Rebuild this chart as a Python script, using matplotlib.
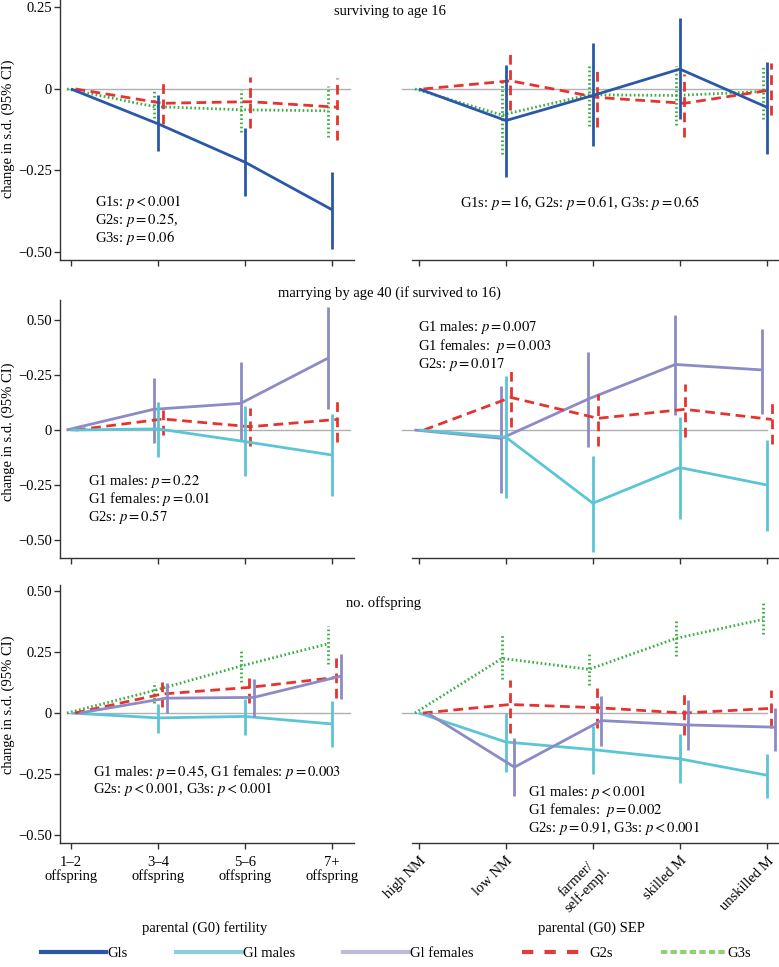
import numpy as np
import matplotlib
matplotlib.use('Agg')
import matplotlib.pyplot as plt
from matplotlib.lines import Line2D

plt.rcParams['font.family'] = ['Liberation Serif', 'DejaVu Serif']
plt.rcParams['mathtext.fontset'] = 'stix'

nan = np.nan

# x categories
fert_labels = ['1–2\noffspring', '3–4\noffspring', '5–6\noffspring', '7+\noffspring']
sep_labels = ['high NM', 'low NM', 'farmer/\nself-empl.', 'skilled M', 'unskilled M']

# surviving to age 16 -- by parental fertility
sf_g1s = [0, -0.107, -0.225, -0.371]
sf_g1s_lo = [nan, -0.19, -0.328, -0.492]
sf_g1s_hi = [nan, -0.02, -0.12, -0.254]
sf_g2s = [0, -0.044, -0.039, -0.056]
sf_g2s_lo = [nan, -0.108, -0.12, -0.156]
sf_g2s_hi = [nan, 0.017, 0.038, 0.033]
sf_g3s = [0, -0.054, -0.064, -0.067]
sf_g3s_lo = [nan, -0.09, -0.131, -0.146]
sf_g3s_hi = [nan, -0.001, -0.003, 0.009]

# surviving to age 16 -- by parental SEP
ss_g1s = [0, -0.097, -0.02, 0.061, -0.056]
ss_g1s_lo = [nan, -0.271, -0.175, -0.092, -0.199]
ss_g1s_hi = [nan, 0.074, 0.14, 0.217, 0.082]
ss_g2s = [0, 0.025, -0.026, -0.044, -0.003]
ss_g2s_lo = [nan, -0.064, -0.116, -0.146, -0.08]
ss_g2s_hi = [nan, 0.113, 0.06, 0.046, 0.081]
ss_g3s = [0, -0.08, -0.018, -0.02, -0.008]
ss_g3s_lo = [nan, -0.2, -0.113, -0.11, -0.092]
ss_g3s_hi = [nan, 0.03, 0.077, 0.07, 0.068]

# marrying by age 40 -- by parental fertility
mf_g1m = [0, 0.005, -0.053, -0.114]
mf_g1m_lo = [nan, -0.124, -0.209, -0.298]
mf_g1m_hi = [nan, 0.129, 0.109, 0.073]
mf_g1f = [0, 0.094, 0.121, 0.326]
mf_g1f_lo = [nan, -0.061, -0.048, 0.094]
mf_g1f_hi = [nan, 0.235, 0.308, 0.56]
mf_g2s = [0, 0.05, 0.015, 0.048]
mf_g2s_lo = [nan, -0.023, -0.073, -0.053]
mf_g2s_hi = [nan, 0.114, 0.098, 0.144]

# marrying by age 40 -- by parental SEP
ms_g1m = [0, -0.033, -0.333, -0.171, -0.25]
ms_g1m_lo = [nan, -0.308, -0.556, -0.406, -0.458]
ms_g1m_hi = [nan, 0.245, -0.118, 0.061, -0.045]
ms_g1f = [0, -0.038, 0.141, 0.298, 0.273]
ms_g1f_lo = [nan, -0.288, -0.079, 0.068, 0.073]
ms_g1f_hi = [nan, 0.2, 0.356, 0.525, 0.46]
ms_g2s = [0, 0.148, 0.053, 0.094, 0.048]
ms_g2s_lo = [nan, 0.012, -0.073, -0.03, -0.064]
ms_g2s_hi = [nan, 0.283, 0.164, 0.209, 0.141]

# no. offspring -- by parental fertility
of_g1m = [0, -0.02, -0.014, -0.045]
of_g1m_lo = [nan, -0.081, -0.091, -0.139]
of_g1m_hi = [nan, 0.038, 0.058, 0.051]
of_g1f = [0, 0.061, 0.064, 0.151]
of_g1f_lo = [nan, 0.0, -0.016, 0.057]
of_g1f_hi = [nan, 0.122, 0.138, 0.243]
of_g2s = [0, 0.078, 0.105, 0.146]
of_g2s_lo = [nan, 0.024, 0.043, 0.061]
of_g2s_hi = [nan, 0.128, 0.159, 0.227]
of_g3s = [0, 0.092, 0.193, 0.284]
of_g3s_lo = [nan, 0.041, 0.128, 0.203]
of_g3s_hi = [nan, 0.128, 0.257, 0.358]

# no. offspring -- by parental SEP
os_g1m = [0, -0.119, -0.15, -0.188, -0.255]
os_g1m_lo = [nan, -0.241, -0.251, -0.289, -0.349]
os_g1m_hi = [nan, 0.0, -0.055, -0.086, -0.168]
os_g1f = [0, -0.222, -0.031, -0.049, -0.058]
os_g1f_lo = [nan, -0.342, -0.136, -0.153, -0.154]
os_g1f_hi = [nan, -0.103, 0.07, 0.055, 0.019]
os_g2s = [0, 0.035, 0.022, 0.0, 0.019]
os_g2s_lo = [nan, -0.082, -0.062, -0.089, -0.062]
os_g2s_hi = [nan, 0.136, 0.103, 0.086, 0.096]
os_g3s = [0, 0.224, 0.179, 0.306, 0.384]
os_g3s_lo = [nan, 0.138, 0.115, 0.234, 0.324]
os_g3s_hi = [nan, 0.323, 0.242, 0.384, 0.45]

# colours / styles
c_g1s = '#2b58a6'
c_g1m = '#5cc5d5'
c_g1f = '#8c8bc6'
c_g2s = '#e5332f'
c_g3s = '#3aae43'
ls_solid = '-'
ls_dash = (0, (3.5, 2))
ls_dot = (0, (0.6, 0.9))

W, H = 779, 967
fig = plt.figure(figsize=(W / 100, H / 100), dpi=100)


def px(x, y):
    return x / W, 1 - y / H


def make_ax(x0, x1, y0, y1, ylim, xlim):
    ax = fig.add_axes([x0 / W, 1 - y1 / H, (x1 - x0) / W, (y1 - y0) / H])
    ax.set_xlim(*xlim)
    ax.set_ylim(*ylim)
    ax.spines['top'].set_visible(False)
    ax.spines['right'].set_visible(False)
    for s in ('left', 'bottom'):
        ax.spines[s].set_color('#333333')
        ax.spines[s].set_linewidth(1)
    ax.tick_params(direction='out', length=4, width=1, color='#333333',
                   labelsize=10.5, pad=2)
    ax.patch.set_alpha(0)
    return ax


def series(ax, vals, lo, hi, color, ls, off):
    xs = np.arange(len(vals)) + off / 87.0
    ax.plot(xs, vals, color=color, ls=ls, lw=2, solid_capstyle='butt', clip_on=False)
    for xi, l, h in zip(xs, lo, hi):
        if np.isnan(l):
            continue
        ax.plot([xi, xi], [l, h], color=color, ls=ls, lw=2,
                solid_capstyle='butt', clip_on=False)


left_xlim = (-0.126, 3.25)
right_xlim = (-0.08, 4.14)
rows = [(0, 260, (-0.525, 0.273)),
        (300, 558, (-0.582, 0.591)),
        (585, 843, (-0.533, 0.525))]

axes = []
for (y0, y1, yl) in rows:
    axl = make_ax(60, 354, y0, y1, yl, left_xlim)
    axr = make_ax(412, 779, y0, y1, yl, right_xlim)
    axr.spines['left'].set_visible(False)
    axr.tick_params(axis='y', left=False, labelleft=False)
    axl.plot([-0.05, 3.2], [0, 0], color='#b0b0b0', lw=1, zorder=0)
    axr.plot([-0.2, 4.0], [0, 0], color='#b0b0b0', lw=1, zorder=0, clip_on=False)
    axl.set_xticks(range(4))
    axr.set_xticks(range(5))
    axl.set_xticklabels([])
    axr.set_xticklabels([])
    axes.append((axl, axr))

# y ticks
axes[0][0].set_yticks([0.25, 0, -0.25, -0.5])
axes[0][0].set_yticklabels(['0.25', '0', '−0.25', '−0.50'])
axes[1][0].set_yticks([0.5, 0.25, 0, -0.25, -0.5])
axes[1][0].set_yticklabels(['0.50', '−0.25', '0', '−0.25', '−0.50'])
axes[2][0].set_yticks([0.5, 0.25, 0, -0.25, -0.5])
axes[2][0].set_yticklabels(['0.50', '0.25', '0', '−0.25', '−0.50'])

# row 1: surviving
a, b = axes[0]
series(a, sf_g3s, sf_g3s_lo, sf_g3s_hi, c_g3s, ls_dot, -4)
series(a, sf_g2s, sf_g2s_lo, sf_g2s_hi, c_g2s, ls_dash, 4.5)
series(a, sf_g1s, sf_g1s_lo, sf_g1s_hi, c_g1s, ls_solid, 0)
series(b, ss_g3s, ss_g3s_lo, ss_g3s_hi, c_g3s, ls_dot, -4)
series(b, ss_g2s, ss_g2s_lo, ss_g2s_hi, c_g2s, ls_dash, 4.5)
series(b, ss_g1s, ss_g1s_lo, ss_g1s_hi, c_g1s, ls_solid, 0)

# row 2: marrying
a, b = axes[1]
series(a, mf_g1f, mf_g1f_lo, mf_g1f_hi, c_g1f, ls_solid, -4.5)
series(a, mf_g2s, mf_g2s_lo, mf_g2s_hi, c_g2s, ls_dash, 5)
series(a, mf_g1m, mf_g1m_lo, mf_g1m_hi, c_g1m, ls_solid, 0)
series(b, ms_g1f, ms_g1f_lo, ms_g1f_hi, c_g1f, ls_solid, -4.5)
series(b, ms_g2s, ms_g2s_lo, ms_g2s_hi, c_g2s, ls_dash, 5)
series(b, ms_g1m, ms_g1m_lo, ms_g1m_hi, c_g1m, ls_solid, 0)

# row 3: offspring
a, b = axes[2]
series(a, of_g3s, of_g3s_lo, of_g3s_hi, c_g3s, ls_dot, -4)
series(a, of_g1m, of_g1m_lo, of_g1m_hi, c_g1m, ls_solid, 0)
series(a, of_g2s, of_g2s_lo, of_g2s_hi, c_g2s, ls_dash, 4)
series(a, of_g1f, of_g1f_lo, of_g1f_hi, c_g1f, ls_solid, 8.5)
series(b, os_g3s, os_g3s_lo, os_g3s_hi, c_g3s, ls_dot, -4)
series(b, os_g1m, os_g1m_lo, os_g1m_hi, c_g1m, ls_solid, 0)
series(b, os_g2s, os_g2s_lo, os_g2s_hi, c_g2s, ls_dash, 4)
series(b, os_g1f, os_g1f_lo, os_g1f_hi, c_g1f, ls_solid, 8.5)

# x tick labels on bottom row
a.set_xticklabels(fert_labels, fontsize=10.5, linespacing=1.1)
b.set_xticklabels(sep_labels, fontsize=10.5, rotation=45, ha='right',
                  rotation_mode='anchor', multialignment='center', linespacing=1.1)
a.tick_params(axis='x', pad=5)
b.tick_params(axis='x', pad=4)

# panel titles
fs = 10.5
fig.text(*px(390, 12), 'surviving to age 16', ha='center', va='center', fontsize=fs)
fig.text(*px(389, 293), 'marrying by age 40 (if survived to 16)', ha='center', va='center', fontsize=fs)
fig.text(*px(384, 603), 'no. offspring', ha='center', va='center', fontsize=fs)

# y labels
for yc in (129, 432, 705):
    fig.text(*px(8, yc), 'change in s.d. (95% CI)', rotation=90, ha='center',
             va='center', fontsize=fs)

# p-value annotations
notes = [
    (95, [202, 220, 238], [r'G1s: $p<0.001$', r'G2s: $p=0.25$,', r'G3s: $p=0.06$']),
    (460, [203], [r'G1s: $p=16$, G2s: $p=0.61$, G3s: $p=0.65$']),
    (88, [481, 499, 517], [r'G1 males: $p=0.22$', r'G1 females: $p=0.01$', r'G2s: $p=0.57$']),
    (418, [328, 346, 364], [r'G1 males: $p=0.007$', r'G1 females:  $p=0.003$', r'G2s: $p=0.017$']),
    (93, [772, 789], [r'G1 males: $p=0.45$, G1 females: $p=0.003$',
                      r'G2s: $p<0.001$, G3s: $p<0.001$']),
    (528, [792, 810, 828], [r'G1 males: $p<0.001$', r'G1 females:  $p=0.002$',
                            r'G2s: $p=0.91$, G3s: $p<0.001$']),
]
for x0, ys, texts in notes:
    for yy, t in zip(ys, texts):
        fig.text(*px(x0, yy), t, ha='left', va='center', fontsize=fs)

# axis titles
fig.text(*px(205, 928), 'parental (G0) fertility', ha='center', va='center', fontsize=fs)
fig.text(*px(591, 928), 'parental (G0) SEP', ha='center', va='center', fontsize=fs)

# legend
handles = [
    Line2D([0], [0], color='#2b58a6', lw=3, label='Gls'),
    Line2D([0], [0], color='#8fcfdc', lw=3, label='Gl males'),
    Line2D([0], [0], color='#bcbad9', lw=3, label='Gl females'),
    Line2D([0], [0], color='#e03a3a', lw=3, ls=(0, (2.7, 2.7)), label='G2s'),
    Line2D([0], [0], color='#8fd070', lw=3, ls=(0, (1.5, 0.8)), label='G3s'),
]
fig.legend(handles=handles, loc='center', bbox_to_anchor=px(396, 953), ncol=5,
           frameon=False, fontsize=fs, handlelength=4.5, handletextpad=0.1,
           columnspacing=3.3, borderaxespad=0)

fig.savefig('out.png', dpi=100)
